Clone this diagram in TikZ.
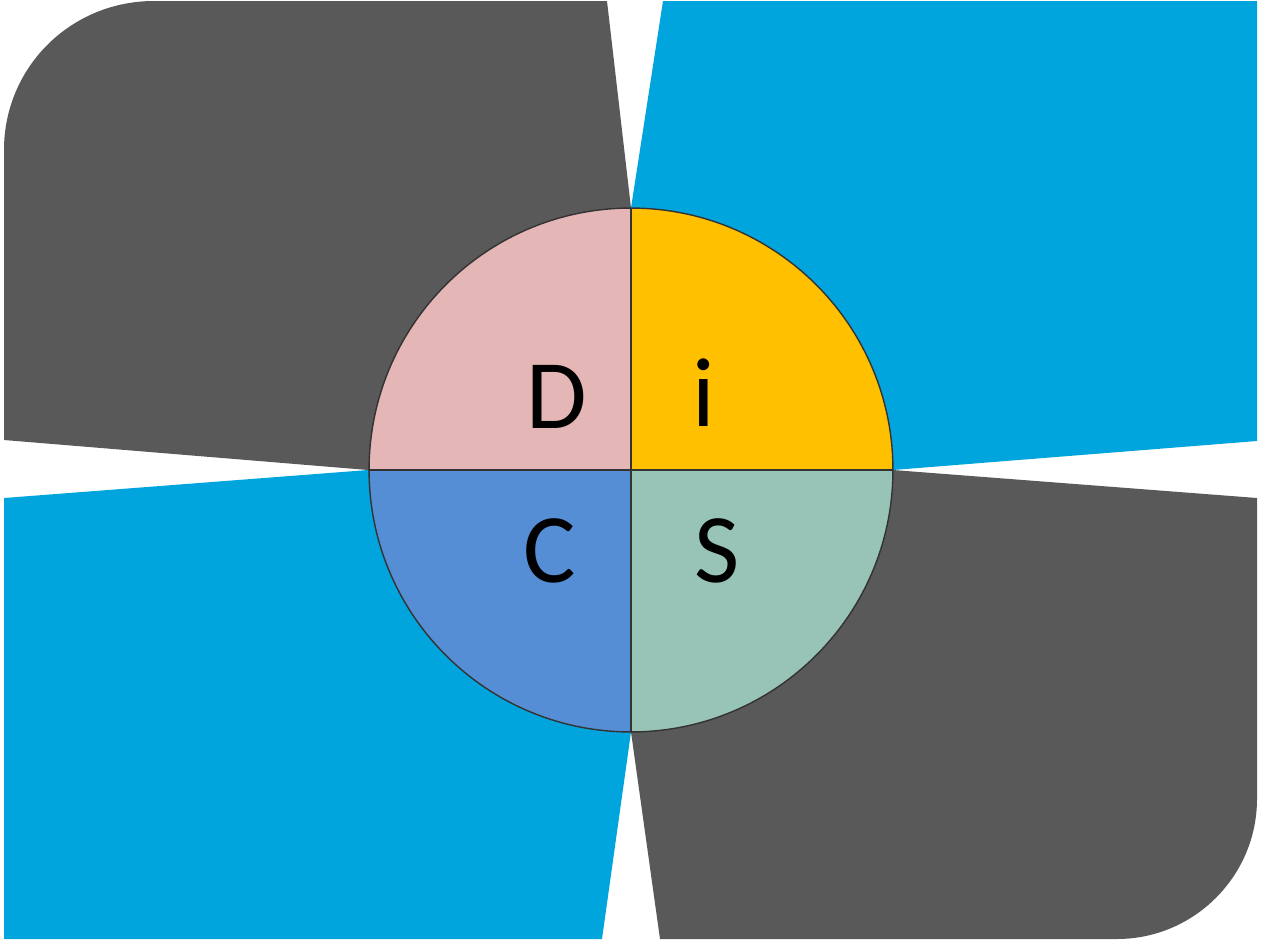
\documentclass[tikz,border=0pt]{standalone}
\usepackage{fontspec}
\newfontfamily\discfont{Carlito}
\definecolor{darkgray}{HTML}{595959}
\definecolor{skyblue}{HTML}{00A5DE}
\definecolor{dpink}{HTML}{E4B6B6}
\definecolor{igold}{HTML}{FFC000}
\definecolor{cblue}{HTML}{558ED5}
\definecolor{ssage}{HTML}{98C4B8}
\tikzset{
  letter/.style={font=\discfont\fontsize{56}{60}\selectfont, text=black, inner sep=0pt, anchor=base},
  outline/.style={draw=black!80, line width=0.8pt}
}
\begin{document}
\begin{tikzpicture}[x=0.02cm,y=-0.02cm]
\fill[white] (0,0) rectangle (1272,940);
\useasboundingbox (0,0) rectangle (1272,940);
% background wedges
\fill[darkgray] (4,440) -- (4,150) .. controls (4,67) and (71,1) .. (154,1) -- (607,1) -- (631,208) -- (631,470) -- (368,470) -- cycle;
\fill[skyblue] (663,1) -- (1257,1) -- (1257,441) -- (893,470) -- (631,470) -- (631,208) -- cycle;
\fill[darkgray] (893,470) -- (1257,498) -- (1257,799) .. controls (1257,876) and (1194,939) .. (1117,939) -- (660,939) -- (631,732) -- (631,470) -- cycle;
\fill[skyblue] (368,470) -- (631,470) -- (631,732) -- (602,939) -- (4,939) -- (4,498) -- cycle;
% circle quadrants
\coordinate (c) at (631,470);
\begin{scope}
\clip (c) circle[radius=5.24cm];
\fill[dpink] (c) rectangle (360,200);
\fill[igold] (c) rectangle (900,200);
\fill[cblue] (c) rectangle (360,740);
\fill[ssage] (c) rectangle (900,740);
\end{scope}
\draw[outline] (c) circle[radius=5.24cm];
\draw[outline] (631,208) -- (631,732);
\draw[outline] (368,470) -- (893,470);
% letters
\node[letter] (D) at (557,428) {D};
\node[letter] (i) at (704,426) {i};
\node[letter] (C) at (550,582) {C};
\node[letter] (S) at (717,582) {S};
\end{tikzpicture}
\end{document}
